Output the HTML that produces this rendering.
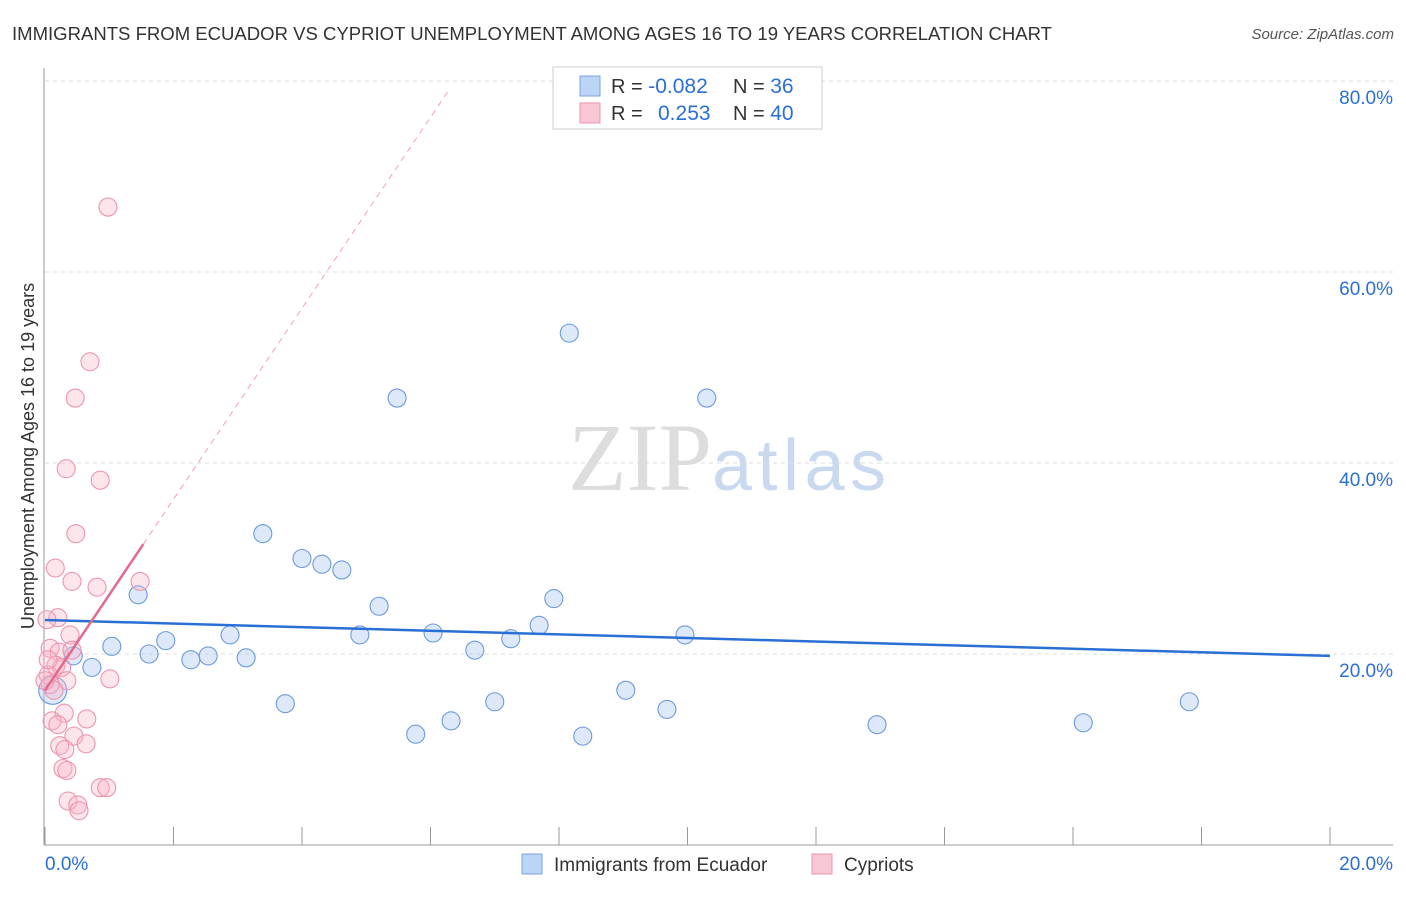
<!DOCTYPE html>
<html><head><meta charset="utf-8"><style>
body{margin:0;background:#fff;font-family:"Liberation Sans",sans-serif}
</style></head><body>
<svg width="1406" height="892" xmlns="http://www.w3.org/2000/svg" font-family="Liberation Sans, sans-serif">
<text x="12" y="40" font-size="18" fill="#333" textLength="1040" lengthAdjust="spacingAndGlyphs">IMMIGRANTS FROM ECUADOR VS CYPRIOT UNEMPLOYMENT AMONG AGES 16 TO 19 YEARS CORRELATION CHART</text>
<text x="1394" y="39" font-size="15" fill="#555" font-style="italic" text-anchor="end">Source: ZipAtlas.com</text>
<text x="712" y="490" font-size="96" fill="#ddd" font-family="Liberation Serif, serif" text-anchor="end">ZIP</text>
<text x="712" y="490" font-size="72" fill="#c9d9ef" textLength="174">atlas</text>
<g id="grid"></g>
<g id="axes"></g>
<g id="marks"></g>
<text x="34" y="456" font-size="18" fill="#333" text-anchor="middle" transform="rotate(-90 34 456)">Unemployment Among Ages 16 to 19 years</text>
<g>
<rect x="553" y="67" width="269" height="62" fill="#fff" stroke="#ccc"/>
<rect x="580" y="76" width="20" height="20" fill="#bcd4f5" stroke="#7aa4e0"/>
<rect x="580" y="103" width="20" height="20" fill="#f9c6d4" stroke="#ec95ae"/>
<text x="611" y="93" font-size="20" fill="#333">R = <tspan fill="#2a6fd6" font-size="21">-0.082</tspan></text>
<text x="733" y="93" font-size="20" fill="#333">N = <tspan fill="#2a6fd6" font-size="21">36</tspan></text>
<text x="611" y="120" font-size="20" fill="#333">R = <tspan fill="#2a6fd6" x="658" font-size="21">0.253</tspan></text>
<text x="733" y="120" font-size="20" fill="#333">N = <tspan fill="#2a6fd6" font-size="21">40</tspan></text>
</g>
<g>
<rect x="522" y="854" width="20" height="20" fill="#bcd4f5" stroke="#7aa4e0"/>
<text x="554" y="871" font-size="19" fill="#333">Immigrants from Ecuador</text>
<rect x="812" y="854" width="20" height="20" fill="#f9c6d4" stroke="#ec95ae"/>
<text x="844" y="871" font-size="19" fill="#333">Cypriots</text>
</g>
</svg>
<script>
const yTicks=[20,40,60,80];
const xTickLabels=["0.0%","20.0%"];
const blueX=[0.12,0.44,0.73,1.04,1.45,1.62,1.88,2.27,2.54,2.88,3.13,3.39,3.74,4.00,4.31,4.62,4.90,5.20,5.48,5.77,6.04,6.32,6.69,7.00,7.25,7.69,7.92,8.16,8.37,9.04,9.68,9.96,10.30,12.95,16.16,17.81];
const blueY=[16.2,19.8,18.6,20.8,26.2,20.0,21.4,19.4,19.8,22.0,19.6,32.6,14.8,30.0,29.4,28.8,22.0,25.0,46.8,11.6,22.2,13.0,20.4,15.0,21.6,23.0,25.8,53.6,11.4,16.2,14.2,22.0,46.8,12.6,12.8,15.0];
const pinkX=[0.98,0.70,0.47,0.33,0.86,0.48,0.16,0.42,1.48,0.81,0.20,0.03,0.39,0.08,0.22,0.42,0.17,0.26,0.05,0.34,0.08,1.01,0.30,0.11,0.65,0.20,0.45,0.23,0.64,0.31,0.28,0.34,0.86,0.96,0.36,0.51,0.53,0.05,0.14,0.0];
const pinkY=[66.8,50.6,46.8,39.4,38.2,32.6,29.0,27.6,27.6,27.0,23.8,23.6,22.0,20.6,20.2,20.4,18.8,18.6,17.8,17.2,16.8,17.4,13.8,13.0,13.2,12.6,11.4,10.4,10.6,10.0,8.0,7.8,6.0,6.0,4.6,4.2,3.6,19.4,16.2,17.2];
const blueTrend=[23.56,19.8];
const pinkTrend=[16.2,10.0];
const NS="http://www.w3.org/2000/svg";
const sx=v=>45+v*64.25, sy=v=>845-v*9.55;
function mk(tag,attrs,parent){const e=document.createElementNS(NS,tag);for(const k in attrs)e.setAttribute(k,attrs[k]);parent.appendChild(e);return e;}
const grid=document.getElementById('grid'),axes=document.getElementById('axes'),marks=document.getElementById('marks');
yTicks.forEach(t=>{
 const l=mk('line',{x1:45,x2:1393,y1:sy(t),y2:sy(t),stroke:'#ddd','stroke-dasharray':'4 4'},grid);
 
 
 const tx=mk('text',{x:1393,y:sy(t)+23,'font-size':19,fill:'#2a6fd6','text-anchor':'end'},grid);
 tx.textContent=t.toFixed(1)+'%';
 
 
});
mk('line',{x1:44,x2:44,y1:68,y2:845,stroke:'#999'},axes);
mk('line',{x1:44,x2:1393,y1:845,y2:845,stroke:'#999'},axes);
for(let i=0;i<=10;i++){const x=sx(i*2);const t=mk('line',{x1:x,x2:x,y1:827,y2:845,stroke:'#999'},axes);
 
 }
[[0,'start',45],[20,'end',1393]].forEach((d,i)=>{const t=mk('text',{x:d[2],y:870,'font-size':19,fill:'#2a6fd6','text-anchor':d[1]},axes);t.textContent=xTickLabels[i];
 
 });
blueX.forEach((x,i)=>{const c=mk('circle',{cx:sx(x),cy:sy(blueY[i]),r:i==0?14:9,fill:'rgba(170,200,240,0.4)',stroke:'#6b9ade','stroke-width':1.1},marks);
 
 });
pinkX.forEach((x,i)=>{const c=mk('circle',{cx:sx(x),cy:sy(pinkY[i]),r:9,fill:'rgba(248,180,200,0.35)',stroke:'#ec95ae','stroke-width':1.1},marks);
 
 });
const bt=mk('line',{x1:sx(0),y1:sy(blueTrend[0]),x2:sx(20),y2:sy(blueTrend[1]),stroke:'#2a6fd6','stroke-width':2.5},marks);


const pd=mk('line',{x1:sx(1.53),y1:sy(pinkTrend[0]+pinkTrend[1]*1.53),x2:sx(6.27),y2:sy(pinkTrend[0]+pinkTrend[1]*6.27),stroke:'#f0a0b8','stroke-width':1,'stroke-dasharray':'6 5'},marks);


const ps=mk('line',{x1:sx(0),y1:sy(pinkTrend[0]),x2:sx(1.53),y2:sy(pinkTrend[0]+pinkTrend[1]*1.53),stroke:'#e5688f','stroke-width':2.5},marks);


</script>
</body></html>
